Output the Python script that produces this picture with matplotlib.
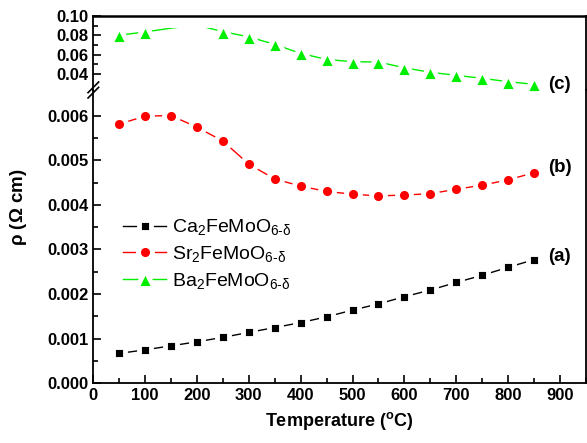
import matplotlib
matplotlib.use('Agg')
import matplotlib.pyplot as plt
from matplotlib.transforms import Bbox, TransformedBbox
from matplotlib.lines import Line2D

plt.rcParams['font.family'] = ['Liberation Sans', 'DejaVu Sans']
plt.rcParams['mathtext.fontset'] = 'custom'
plt.rcParams['mathtext.rm'] = 'Liberation Sans'
plt.rcParams['mathtext.it'] = 'Liberation Sans'
plt.rcParams['mathtext.bf'] = 'Liberation Sans:bold'

temp = [50, 100, 150, 200, 250, 300, 350, 400, 450, 500, 550, 600, 650, 700, 750, 800, 850]
rho_ca = [0.00067, 0.00075, 0.00084, 0.00093, 0.00103, 0.00114, 0.00125, 0.00136, 0.00149,
          0.00164, 0.00178, 0.00194, 0.00209, 0.00226, 0.00242, 0.00260, 0.00277]
rho_sr = [0.00581, 0.00599, 0.00600, 0.00574, 0.00543, 0.00491, 0.00458, 0.00442, 0.00430,
          0.00424, 0.00420, 0.00422, 0.00425, 0.00435, 0.00444, 0.00456, 0.00472]
rho_ba = [0.0801, 0.0835, 0.0874, 0.0905, 0.0838, 0.0784, 0.0706, 0.0613, 0.0551,
          0.0527, 0.0524, 0.0465, 0.0418, 0.0387, 0.0356, 0.0321, 0.0294]
ba_hidden = [2, 3]  # off-scale points, markers not shown in the original

names = [r'Ca$_\mathregular{2}$FeMoO$_\mathregular{6\text{-}\delta}$',
         r'Sr$_\mathregular{2}$FeMoO$_\mathregular{6\text{-}\delta}$',
         r'Ba$_\mathregular{2}$FeMoO$_\mathregular{6\text{-}\delta}$']
tags = ['(a)', '(b)', '(c)']

fig = plt.figure(figsize=(5.87, 4.43), dpi=100)
L, W = 0.159, 0.839
ax = fig.add_axes([L, 0.1348, W, 0.6622])
ax_top = fig.add_axes([L, 0.797, W, 0.167])
ax.set_facecolor('none')
ax_top.set_facecolor('none')

GAP = 3.5  # white marker edge -> gap between line and marker


def series(a, x, y, color, marker, ms, label, keep=None, clip=None):
    idx = keep if keep is not None else list(range(len(x)))
    ln, = a.plot(x, y, '-', color=color, lw=1.0, marker=marker, ms=ms + GAP,
                 mfc=color, mec='white', mew=GAP, markevery=idx, label=label)
    if clip is not None:
        ln.set_clip_box(TransformedBbox(Bbox(clip), a.transData))
    return ln


h_ca = series(ax, temp, rho_ca, 'black', 's', 5.0, names[0])
h_sr = series(ax, temp, rho_sr, 'red', 'o', 6.6, names[1])
keep = [i for i in range(len(temp)) if i not in ba_hidden]
h_ba = series(ax_top, temp, rho_ba, '#00ee00', '^', 9.5, names[2], keep=keep,
              clip=[[0, 0.02], [950, 0.0876]])

for a in (ax, ax_top):
    a.set_xlim(0, 950)
    a.tick_params(direction='in', which='both', right=False, top=False)
    a.tick_params(which='major', length=6, width=1.2, labelsize=12)
    a.tick_params(which='minor', length=3.5, width=1.2)
    for s in a.spines.values():
        s.set_linewidth(1.3)

ax.set_ylim(0, 0.006576)
ax.set_yticks([0.000, 0.001, 0.002, 0.003, 0.004, 0.005, 0.006])
ax.set_yticklabels(['0.000', '0.001', '0.002', '0.003', '0.004', '0.005', '0.006'], fontweight='bold')
ax.set_yticks([0.0005, 0.0015, 0.0025, 0.0035, 0.0045, 0.0055], minor=True)
ax.set_xticks(range(0, 1000, 100))
ax.set_xticklabels([str(v) for v in range(0, 1000, 100)], fontweight='bold')
ax.set_xticks(range(50, 1000, 100), minor=True)
ax.spines['top'].set_visible(False)

ax_top.set_ylim(0.0236, 0.10)
ax_top.set_yticks([0.04, 0.06, 0.08, 0.10])
ax_top.set_yticklabels(['0.04', '0.06', '0.08', '0.10'], fontweight='bold')
ax_top.set_yticks([0.05, 0.07, 0.09], minor=True)
ax_top.set_xticks([])
ax_top.spines['bottom'].set_visible(False)
ax_top.spines['top'].set_linewidth(1.8)

# break marks on the left spine
yb = 1 - 90 / 443
for dy in (-0.006, 0.006):
    fig.add_artist(Line2D([L - 0.009, L + 0.009], [yb + dy - 0.012, yb + dy + 0.012],
                          color='black', lw=1.2))

ax.set_xlabel(r'Temperature ($^\mathregular{o}$C)', fontsize=13, fontweight='bold', labelpad=5)
fig.text(0.032, 1 - 207 / 443, r'$\mathregular{\rho}$ ($\mathregular{\Omega}$ cm)', rotation=90,
         ha='center', va='center', fontsize=13.5, fontweight='bold')

ax.text(878, 0.00284, tags[0], fontsize=13.5, fontweight='bold', ha='left', va='center')
ax.text(878, 0.00483, tags[1], fontsize=13.5, fontweight='bold', ha='left', va='center')
ax_top.text(878, 0.0294, tags[2], fontsize=13.5, fontweight='bold', ha='left', va='center')

leg = ax.legend([h_ca, h_sr, h_ba], names, loc='upper left', bbox_to_anchor=(0.025, 0.625),
                frameon=False, fontsize=14, handlelength=2.2, handletextpad=0.3,
                labelspacing=0.35, numpoints=1)

fig.savefig('out.png', dpi=100)
